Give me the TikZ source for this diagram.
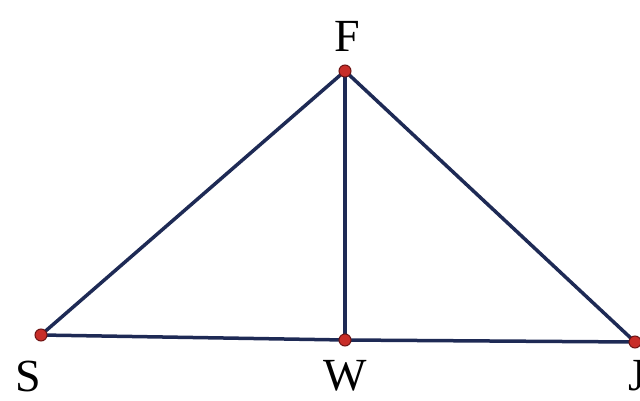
\documentclass[tikz,border=0pt]{standalone}
\usepackage{fontspec}
\setmainfont{Liberation Serif}
\begin{document}
\begin{tikzpicture}[x=1pt,y=-1pt,
  seg/.style={draw=linecol,line width=3.5pt},
  pt/.style={circle,fill=dotred,draw=dotedge,line width=1pt,inner sep=0pt,minimum size=12pt},
  lab/.style={font=\fontsize{46}{46}\selectfont,text=black,inner sep=0pt}]
\definecolor{linecol}{RGB}{30,42,85}
\definecolor{dotred}{RGB}{200,45,40}
\definecolor{dotedge}{RGB}{110,20,20}
\useasboundingbox (0,0) rectangle (640,401);
\coordinate (F) at (345,71);
\coordinate (S) at (41,335);
\coordinate (W) at (345,340);
\coordinate (J) at (635,342);
\draw[seg] (S) -- (F) -- (J);
\draw[seg] (S) -- (W) -- (J);
\draw[seg] (F) -- (W);
\foreach \p in {F,S,W,J} \node[pt] at (\p) {};
\node[lab] (lF) at (347,36) {F};
\node[lab] (lS) at (28,376) {S};
\node[lab] (lW) at (345,376) {W};
\node[lab] (lJ) at (637,376) {J};
\end{tikzpicture}
\end{document}
